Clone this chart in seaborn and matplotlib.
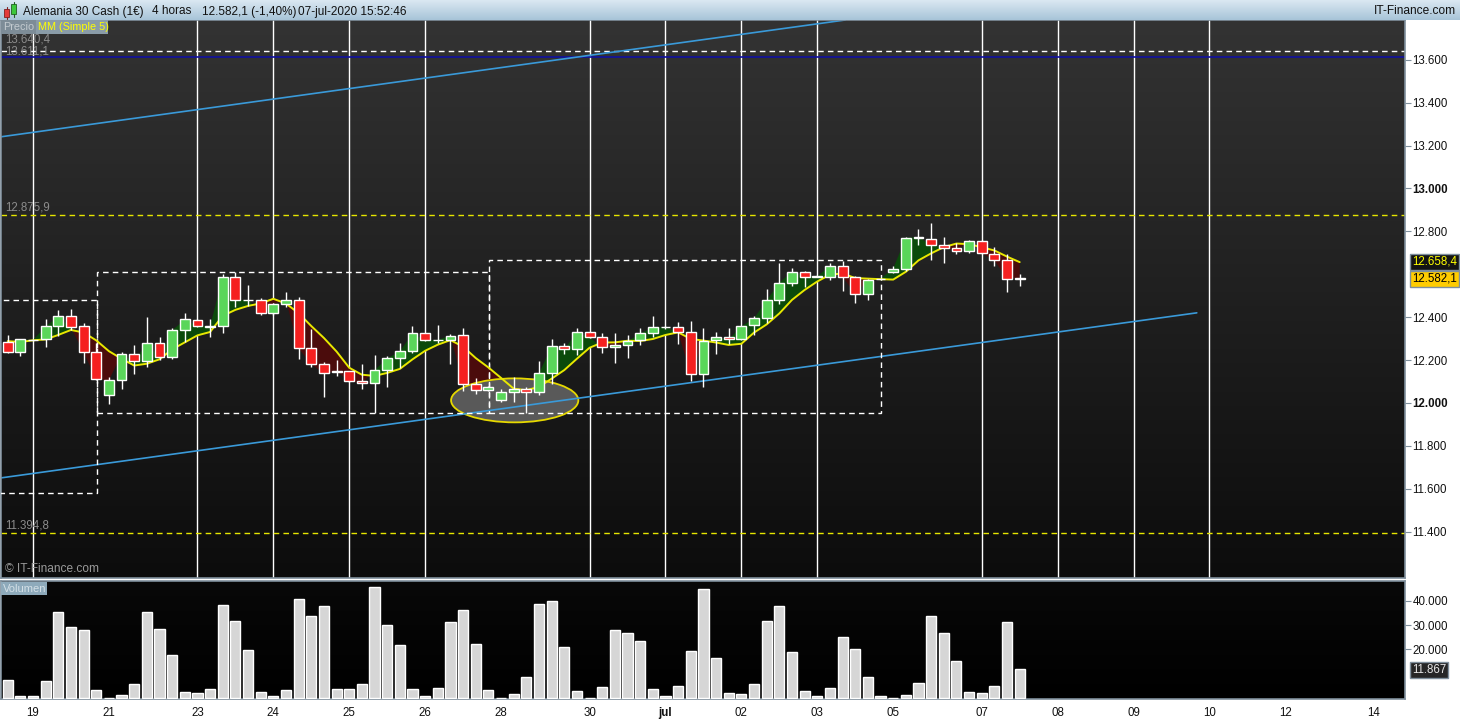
import numpy as np
import pandas as pd
import matplotlib
matplotlib.use("Agg")
import matplotlib.pyplot as plt
import seaborn as sns
from matplotlib.patches import Rectangle, Ellipse
from matplotlib.colors import LinearSegmentedColormap

# ---------------- data (4h candles, DAX 30 cash) ----------------
opens = [12285, 12236, 12294, 12296, 12357, 12403, 12357, 12236, 12039, 12106,
         12226, 12194, 12278, 12213, 12338, 12385, 12355, 12357, 12589, 12478,
         12478, 12417, 12463, 12478, 12254, 12180, 12145, 12147, 12101, 12092,
         12152, 12208, 12240, 12324, 12292, 12292, 12319, 12087, 12059, 12013,
         12050, 12064, 12050, 12138, 12264, 12250, 12329, 12306, 12259, 12268,
         12292, 12324, 12352, 12352, 12329, 12133, 12292, 12306, 12296, 12361,
         12394, 12478, 12561, 12612, 12589, 12589, 12636, 12589, 12506, 12578,
         12612, 12626, 12771, 12766, 12738, 12724, 12710, 12757, 12696, 12664,
         12580]
highs = [12316, 12300, 12297, 12391, 12433, 12440, 12371, 12278, 12121, 12236,
         12270, 12399, 12306, 12347, 12417, 12390, 12389, 12600, 12611, 12549,
         12490, 12468, 12516, 12493, 12344, 12189, 12200, 12150, 12181, 12223,
         12219, 12278, 12358, 12328, 12363, 12321, 12347, 12115, 12078, 12064,
         12119, 12073, 12194, 12296, 12278, 12347, 12333, 12324, 12324, 12319,
         12347, 12405, 12360, 12375, 12380, 12347, 12329, 12347, 12360, 12403,
         12530, 12654, 12631, 12617, 12595, 12654, 12663, 12592, 12580, 12583,
         12636, 12775, 12812, 12840, 12775, 12747, 12761, 12761, 12729, 12696,
         12599]
lows = [12234, 12220, 12289, 12262, 12310, 12340, 12185, 12105, 11994, 12067,
        12133, 12166, 12200, 12206, 12285, 12355, 12306, 12327, 12448, 12450,
        12409, 12412, 12448, 12206, 12169, 12029, 12127, 12098, 12067, 11952,
        12076, 12161, 12231, 12290, 12280, 12180, 12056, 12040, 12054, 12003,
        12005, 11952, 12037, 12087, 12226, 12222, 12303, 12231, 12185, 12208,
        12268, 12306, 12345, 12273, 12104, 12076, 12226, 12273, 12292, 12315,
        12371, 12459, 12547, 12541, 12585, 12572, 12522, 12466, 12480, 12575,
        12608, 12615, 12738, 12668, 12650, 12692, 12701, 12692, 12636, 12519,
        12547]
closes = [12236, 12296, 12293, 12357, 12403, 12352, 12236, 12110, 12106, 12226,
          12194, 12278, 12213, 12338, 12389, 12357, 12357, 12589, 12478, 12480,
          12417, 12463, 12478, 12254, 12180, 12138, 12147, 12101, 12092, 12152,
          12208, 12240, 12324, 12292, 12294, 12314, 12087, 12059, 12073, 12050,
          12064, 12050, 12138, 12264, 12250, 12329, 12306, 12259, 12268, 12287,
          12324, 12352, 12353, 12329, 12133, 12287, 12306, 12296, 12357, 12394,
          12478, 12561, 12612, 12589, 12591, 12636, 12589, 12506, 12575, 12579,
          12626, 12771, 12772, 12738, 12724, 12710, 12757, 12699, 12664, 12580,
          12582.1]
prev_closes = [12316, 12253, 12337, 12298]   # closes before the visible window (for MM 5)
volume = [7400, 800, 800, 7000, 35400, 29200, 28000, 3300, 0, 1200,
          5800, 35400, 28400, 17700, 2500, 2100, 3700, 38300, 31700, 19800,
          2500, 800, 3300, 40700, 33700, 37900, 3700, 3700, 5800, 45700,
          30000, 21800, 3700, 800, 4100, 31300, 36200, 22200, 3300, 0,
          1600, 8500, 38500, 39800, 20800, 2700, 0, 4400, 28000, 26700,
          23500, 3700, 800, 4900, 19300, 44900, 16500, 2100, 1600, 5800,
          31700, 37900, 18900, 2900, 800, 4100, 25100, 20200, 8600, 800,
          0, 1200, 6200, 33700, 26700, 15200, 2500, 2100, 4900, 31300,
          11867]

day_ticks = [2, 8, 15, 21, 27, 33, 39, 46, 52, 58, 64, 70, 77, 83, 89, 95, 101, 108]
day_labels = ["19", "21", "23", "24", "25", "26", "28", "30", "jul", "02", "03",
              "05", "07", "08", "09", "10", "12", "14"]
grid_days = [2, 15, 21, 27, 33, 46, 52, 58, 64, 77, 83, 89, 95]
price_ticks = [11400, 11600, 11800, 12000, 12200, 12400, 12800, 13000, 13200, 13400, 13600]
vol_ticks = [20000, 30000, 40000]

level_lines = [13640.4, 12875.9, 11394.8]
level_labels = ["13.640,4", "12.875,9", "11.394,8"]
blue_level = 13611.1
blue_label = "13.611,1"
upper_trend_x, upper_trend_y = [-0.61, 66.2], [13240, 13785]
lower_trend_x, lower_trend_y = [-0.61, 94.0], [11650, 12420]
boxes = [(-2.0, 7.08, 11581, 12482), (7.08, 38.07, 11952, 12611), (38.07, 69.06, 11952, 12664)]
ellipse_center, ellipse_size = (40.08, 12012), (10.06, 205)

# ---------------- derived ----------------
n = len(closes)
idx = np.arange(n)
o = np.array(opens, float); h = np.array(highs, float)
l = np.array(lows, float); c = np.array(closes, float)
ma = pd.Series(prev_closes + closes).rolling(5).mean().to_numpy()[len(prev_closes):]
df = pd.DataFrame({"idx": idx, "vol": volume, "ma": ma})

# ---------------- figure ----------------
sns.set_style("dark")
plt.rcParams["font.family"] = ["Liberation Sans", "DejaVu Sans"]
W, H = 1460, 720
fig = plt.figure(figsize=(14.6, 7.2), dpi=100, facecolor="white")
fx = lambda px: px / W
fy = lambda py: 1 - py / H

XL = (-0.53, 110.46)
YL = (11184, 13785)
YV = (-411, 48150)
frame = "#7f8f9c"

ax = fig.add_axes([fx(1), fy(578), fx(1405) - fx(1), (578 - 20) / H])
axv = fig.add_axes([fx(1), fy(699), fx(1405) - fx(1), (699 - 581) / H])
axh = fig.add_axes([0, fy(20), 1, 20 / H])

# backgrounds
grad = np.linspace(0, 1, 256).reshape(-1, 1)
ax.imshow(grad, cmap=LinearSegmentedColormap.from_list("m", ["#333333", "#0c0c0c"]),
          extent=[XL[0], XL[1], YL[0], YL[1]], aspect="auto", origin="upper", zorder=0)
axv.imshow(grad, cmap=LinearSegmentedColormap.from_list("v", ["#080808", "#000000"]),
           extent=[XL[0], XL[1], YV[0], YV[1]], aspect="auto", origin="upper", zorder=0)
axh.imshow(grad, cmap=LinearSegmentedColormap.from_list("h", ["#dbe8f2", "#a7c4d8"]),
           extent=[0, 1, 0, 1], aspect="auto", origin="upper", zorder=0)
axh.set_xlim(0, 1); axh.set_ylim(0, 1); axh.axis("off")

# vertical day grid
for d in grid_days:
    ax.axvline(d, color="white", lw=1.0, zorder=1.2)

# horizontal level lines
ax.axhline(level_lines[0], color="white", lw=1, ls=(0, (4, 3)), zorder=1.3)
ax.axhline(blue_level, color="#1010a0", lw=1.2, zorder=1.3)
for lv in level_lines[1:]:
    ax.axhline(lv, color="#e6e600", lw=1, ls=(0, (4, 3)), zorder=1.3)
ax.text(0.3 + XL[0], level_lines[0] + 24, level_labels[0], color="#8c8c8c", fontsize=8.3,
        va="bottom", ha="left", zorder=6)
ax.text(0.3 + XL[0], blue_level - 1, blue_label, color="#8c8c8c", fontsize=8.3,
        va="bottom", ha="left", zorder=6)
for lv, lab in zip(level_lines[1:], level_labels[1:]):
    ax.text(0.3 + XL[0], lv + 8, lab, color="#8c8c8c", fontsize=8.3, va="bottom", ha="left", zorder=6)

# fill between close and MA
ax.fill_between(idx, c, ma, where=c >= ma, interpolate=True, color="#0b4a0b", lw=0, zorder=2)
ax.fill_between(idx, c, ma, where=c < ma, interpolate=True, color="#4b0c0c", lw=0, zorder=2)

# channel lines
ax.plot(upper_trend_x, upper_trend_y, color="#3a9ad9", lw=1.2, zorder=2.5)
ax.plot(lower_trend_x, lower_trend_y, color="#3a9ad9", lw=1.2, zorder=2.5)

# dashed boxes
for x0, x1, y0, y1 in boxes:
    ax.add_patch(Rectangle((x0, y0), x1 - x0, y1 - y0, fill=False, ec="white",
                           lw=1, ls=(0, (4, 3)), zorder=2.6))

# ellipse
ax.add_patch(Ellipse(ellipse_center, ellipse_size[0], ellipse_size[1], fc="#595959",
                     ec="#e6d800", lw=1.3, zorder=2.4))

# MA line (seaborn)
sns.lineplot(data=df, x="idx", y="ma", color="#e8e800", lw=1.4, ax=ax, zorder=3.5)

# candles
up = c >= o
ax.vlines(idx, l, h, color="white", lw=1, zorder=4)
body_bottom = np.minimum(o, c)
body_h = np.abs(c - o)
ax.bar(idx, body_h, bottom=body_bottom, width=0.78,
       color=np.where(up, "#5ad65a", "#f52020"), edgecolor="white", linewidth=1, zorder=5)

ax.set_xlim(*XL); ax.set_ylim(*YL)
ax.set_xlabel(""); ax.set_ylabel("")
ax.set_xticks([])
ax.yaxis.tick_right()
ax.set_yticks(price_ticks, [f"{v/1000:.3f}" for v in price_ticks])
for t, v in zip(ax.get_yticklabels(), price_ticks):
    if v in (12000, 13000):
        t.set_fontweight("bold")
ax.tick_params(axis="y", length=4, color=frame, labelsize=8.3, pad=1.5, labelcolor="#111111")
for s in ax.spines.values():
    s.set_color(frame); s.set_linewidth(1.2)

ax.text(0.3 + XL[0], 11200, "© IT-Finance.com", color="#9a9a9a", fontsize=8.6,
        va="bottom", ha="left", zorder=6)

# volume (seaborn)
sns.barplot(data=df, x="idx", y="vol", native_scale=True, color="#d6d6d6", saturation=1,
            edgecolor="white", linewidth=1, width=0.8, errorbar=None, ax=axv, zorder=3)
axv.set_xlim(*XL); axv.set_ylim(*YV)
axv.set_xlabel(""); axv.set_ylabel("")
axv.yaxis.tick_right()
axv.set_yticks(vol_ticks, [f"{v/1000:.3f}" for v in vol_ticks])
axv.set_xticks(day_ticks, day_labels)
for t, lab in zip(axv.get_xticklabels(), day_labels):
    if lab == "jul":
        t.set_fontweight("bold")
axv.tick_params(axis="y", length=4, color=frame, labelsize=8.3, pad=1.5, labelcolor="#111111")
axv.tick_params(axis="x", length=4, color=frame, labelsize=8.3, pad=2, labelcolor="#111111")
for s in axv.spines.values():
    s.set_color(frame); s.set_linewidth(1.2)
axv.grid(False); ax.grid(False)

# ---------------- header and overlay labels ----------------
def prect(x0, y0, x1, y1, color, **kw):
    fig.add_artist(Rectangle((fx(x0), fy(y1)), fx(x1) - fx(x0), (y1 - y0) / H,
                             transform=fig.transFigure, fc=color, ec=kw.get("ec", "none"),
                             lw=kw.get("lw", 0), zorder=10))

# icon
fig.add_artist(plt.Line2D([fx(6.5), fx(6.5)], [fy(19), fy(7)], transform=fig.transFigure,
                          color="#802020", lw=0.8, zorder=9))
fig.add_artist(plt.Line2D([fx(13.5), fx(13.5)], [fy(17), fy(2)], transform=fig.transFigure,
                          color="#206020", lw=0.8, zorder=9))
prect(4, 9, 9, 17, "#e43a3a", ec="#802020", lw=0.6)
prect(11, 4, 16, 14, "#3cc83c", ec="#206020", lw=0.6)

hdr = dict(fontsize=8.5, color="#111111", va="center", ha="left", zorder=11)
fig.text(fx(23), fy(11.5), "Alemania 30 Cash (1€)", **hdr)
fig.text(fx(152), fy(11.5), "4 horas", **hdr)
fig.text(fx(202), fy(11.5), "12.582,1 (-1,40%)", **hdr)
fig.text(fx(298), fy(11.5), "07-jul-2020 15:52:46", **hdr)
fig.text(fx(1456), fy(11.5), "IT-Finance.com", fontsize=8.6, color="#111111",
         va="center", ha="right", zorder=11)

prect(1, 20, 36, 34, "#7d8c97")
prect(36, 20, 108, 34, "#8a9ca8")
fig.text(fx(3), fy(27), "Precio", fontsize=7.8, color="#c4cbd0", va="center", ha="left", zorder=11)
fig.text(fx(38), fy(27), "MM (Simple 5)", fontsize=7.8, color="#ffff00", va="center", ha="left", zorder=11)

prect(1, 582, 47, 595, "#8eaabb")
fig.text(fx(3), fy(588.5), "Volumen", fontsize=8.0, color="#d3dfe6", va="center", ha="left", zorder=11)

# price / volume tags on the right axis
fig.text(fx(1412), fy(262), "12.658,4", fontsize=8.3, color="#ffff00", va="center", ha="left",
         zorder=11, bbox=dict(boxstyle="square,pad=0.18", fc="#141414", ec=frame, lw=1))
fig.text(fx(1412), fy(279), "12.582,1", fontsize=8.3, color="#000000", va="center", ha="left",
         zorder=11, bbox=dict(boxstyle="square,pad=0.18", fc="#ffcc00", ec=frame, lw=1))
fig.text(fx(1412), fy(670), "11.867", fontsize=8.3, color="#e6e6e6", va="center", ha="left",
         zorder=11, bbox=dict(boxstyle="square,pad=0.18", fc="#262626", ec=frame, lw=1))

fig.savefig("out.png", dpi=100, facecolor="white")
